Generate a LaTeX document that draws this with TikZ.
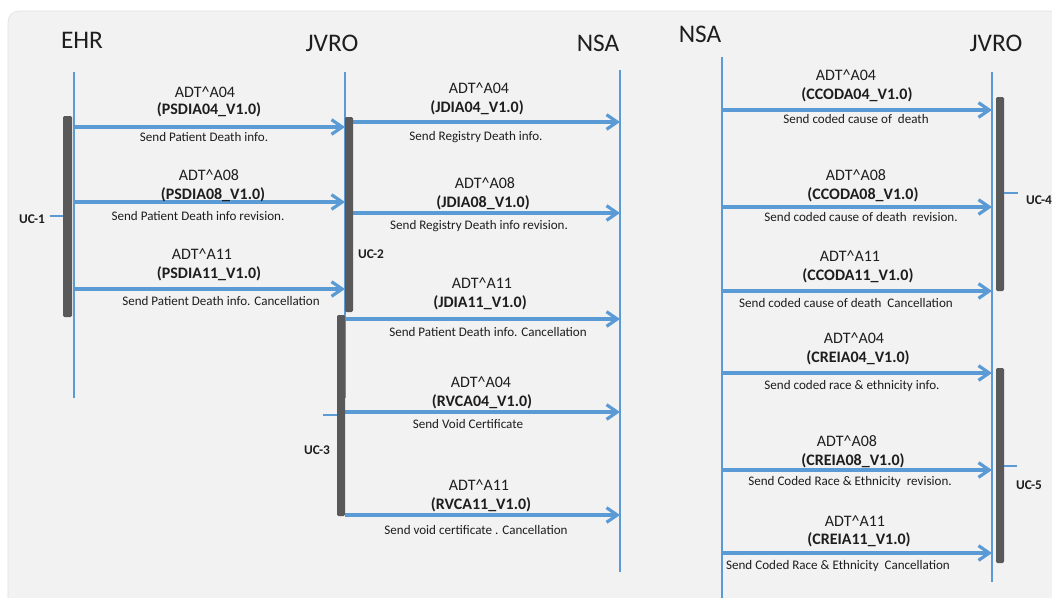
\documentclass[tikz,border=0pt]{standalone}
\usepackage{fontspec}
\setmainfont{Carlito}
\usetikzlibrary{arrows.meta}

\definecolor{lineblue}{RGB}{91,155,213}
\definecolor{bargray}{RGB}{89,89,89}
\definecolor{panelgray}{RGB}{242,242,242}
\definecolor{txtgray}{RGB}{30,30,30}

\tikzset{
  life/.style={draw=lineblue, line width=2pt},
  msg/.style={draw=lineblue, line width=2.4pt, -{Straight Barb[length=8pt,width=11pt]}},
  actbar/.style={fill=bargray, rounded corners=1pt},
  tick/.style={draw=lineblue, line width=0.8pt},
  head/.style={text=txtgray, font=\fontsize{19}{21}\selectfont},
  code/.style={text=txtgray, font=\fontsize{12}{14}\selectfont},
  idtext/.style={text=txtgray, font=\bfseries\fontsize{12}{14}\selectfont},
  info/.style={text=txtgray, font=\fontsize{9.8}{11}\selectfont},
  uclabel/.style={text=txtgray, font=\bfseries\fontsize{10}{12}\selectfont}
}

\begin{document}
\begin{tikzpicture}[x=0.75pt,y=-0.75pt]

\useasboundingbox (0,0) rectangle (1052,597);
\fill[panelgray, draw=gray!25, rounded corners=8pt] (8,11) rectangle (1075,625);

% lifelines
\coordinate (ehr) at (74,0);
\coordinate (jvro) at (345,0);
\coordinate (nsa) at (620,0);
\coordinate (nsa2) at (722,0);
\coordinate (jvro2) at (992,0);

\node[head] (ehr-h) at (82,40) {EHR};
\node[head] (jvro-h) at (332,43) {JVRO};
\node[head] (nsa-h) at (598,43) {NSA};
\node[head] (nsa2-h) at (700,34) {NSA};
\node[head] (jvro2-h) at (996,43) {JVRO};

\draw[life] (ehr |- 0,72) -- (ehr |- 0,398);
\draw[life] (jvro |- 0,72) -- (jvro |- 0,398);
\draw[life] (nsa |- 0,70) -- (nsa |- 0,572);
\draw[life] (nsa2 |- 0,57) -- (nsa2 |- 0,600);
\draw[life] (jvro2 |- 0,72) -- (jvro2 |- 0,582);

% EHR -> JVRO
\foreach \y/\xa/\ya/\xb/\yb/\xs/\ys/\m/\id/\txt [count=\i] in {
  127/205/92/209/110/204/137/A04/PSDIA04/Send Patient Death info.,
  202/209/175/213/195/198/216/A08/PSDIA08/Send Patient Death info revision.,
  289/202/254/209/274/221/301/A11/PSDIA11/Send Patient Death info. Cancellation}
{
  \draw[msg] (ehr |- 0,\y) -- (jvro |- 0,\y);
  \node[code] (p-adt-\i) at (\xa,\ya) {ADT\textasciicircum\m};
  \node[idtext] (p-id-\i) at (\xb,\yb) {(\id\_V1.0)};
  \node[info] (p-txt-\i) at (\xs,\ys) {\txt};
}

% JVRO -> NSA
\foreach \y/\xa/\ya/\xb/\yb/\xs/\ys/\m/\id/\txt [count=\i] in {
  122/479/88/477/108/476/137/A04/JDIA04/Send Registry Death info.,
  213/485/183/483/203/479/226/A08/JDIA08/Send Registry Death info revision.,
  319/482/283/480/303/488/332/A11/JDIA11/Send Patient Death info. Cancellation,
  412/481/382/482/402/468/424/A04/RVCA04/Send Void Certificate,
  515/479/485/481/505/476/530/A11/RVCA11/Send void certificate . Cancellation}
{
  \draw[msg] (jvro |- 0,\y) -- (nsa |- 0,\y);
  \node[code] (j-adt-\i) at (\xa,\ya) {ADT\textasciicircum\m};
  \node[idtext] (j-id-\i) at (\xb,\yb) {(\id\_V1.0)};
  \node[info] (j-txt-\i) at (\xs,\ys) {\txt};
}

% NSA -> JVRO
\foreach \y/\xa/\ya/\xb/\yb/\xs/\ys/\m/\id/\txt [count=\i] in {
  110/846/75/857/95/856/119/A04/CCODA04/Send coded cause of\ \ death,
  207/856/175/863/195/861/217/A08/CCODA08/Send coded cause of death\ \ revision.,
  291/850/256/858/276/846/303/A11/CCODA11/Send coded cause of death\ \ Cancellation,
  373/854/338/858/358/852/386/A04/CREIA04/Send coded race \& ethnicity info.,
  470/847/441/853/461/850/482/A08/CREIA08/Send Coded Race \& Ethnicity\ \ revision.,
  553/855/521/859/540/838/566/A11/CREIA11/Send Coded Race \& Ethnicity\ \ Cancellation}
{
  \draw[msg] (nsa2 |- 0,\y) -- (jvro2 |- 0,\y);
  \node[code] (n-adt-\i) at (\xa,\ya) {ADT\textasciicircum\m};
  \node[idtext] (n-id-\i) at (\xb,\yb) {(\id\_V1.0)};
  \node[info] (n-txt-\i) at (\xs,\ys) {\txt};
}

% activation bars
\fill[actbar] (63,116) rectangle (72,317);
\fill[actbar] (345,117) rectangle (353,312);
\fill[actbar] (337,315) rectangle (345,516);
\fill[actbar] (996,97) rectangle (1004,291);
\fill[actbar] (996,368) rectangle (1004,563);

\node[uclabel] (uc1) at (32,219) {UC-1};
\node[uclabel] (uc2) at (371,254) {UC-2};
\node[uclabel] (uc3) at (317,450) {UC-3};
\node[uclabel] (uc4) at (1039,200) {UC-4};
\node[uclabel] (uc5) at (1029,485) {UC-5};

\draw[tick] (uc1.east) ++(0,-3) -- (63,216);
\draw[tick] (323,415) -- (337,415);
\draw[tick] (1004,193) -- (1018,193);
\draw[tick] (1004,466) -- (1017,466);

\end{tikzpicture}
\end{document}
